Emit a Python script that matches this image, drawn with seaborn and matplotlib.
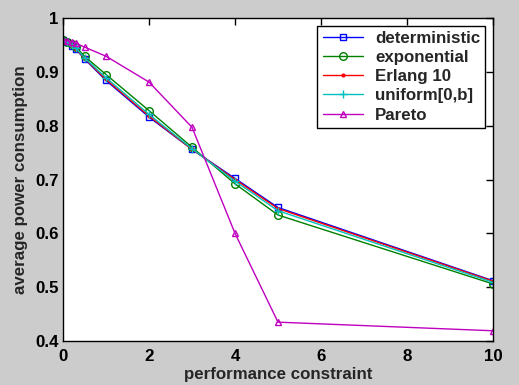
import matplotlib
matplotlib.use("Agg")
import matplotlib.pyplot as plt
import seaborn as sns
import pandas as pd

constraint = [0, 0.1, 0.2, 0.3, 0.5, 1, 2, 3, 4, 5, 10]
deterministic = [0.960, 0.955, 0.948, 0.942, 0.924, 0.884, 0.816, 0.756, 0.702, 0.648, 0.512]
exponential = [0.960, 0.956, 0.951, 0.946, 0.929, 0.895, 0.828, 0.760, 0.692, 0.634, 0.506]
erlang10 = [0.960, 0.955, 0.949, 0.943, 0.925, 0.886, 0.818, 0.756, 0.700, 0.646, 0.511]
uniform = [0.960, 0.955, 0.950, 0.944, 0.926, 0.889, 0.821, 0.757, 0.697, 0.642, 0.509]
pareto = [0.960, 0.958, 0.956, 0.953, 0.946, 0.929, 0.881, 0.797, 0.600, 0.435, 0.419]

series_names = ["deterministic", "exponential", "Erlang 10", "uniform[0,b]", "Pareto"]
series_values = [deterministic, exponential, erlang10, uniform, pareto]
x_ticks = [0, 2, 4, 6, 8, 10]
y_ticks = [0.4, 0.5, 0.6, 0.7, 0.8, 0.9, 1.0]
y_ticklabels = ["0.4", "0.5", "0.6", "0.7", "0.8", "0.9", "1"]

rows = []
for name, vals in zip(series_names, series_values):
    for xv, yv in zip(constraint, vals):
        rows.append({"constraint": xv, "power": yv, "series": name})
df = pd.DataFrame(rows)

sns.set_style("white")
plt.rcParams['font.family'] = ['Liberation Sans', 'DejaVu Sans']
plt.rcParams['font.weight'] = 'bold'
FS = 12.2

colors = ["#0000ff", "#008000", "#ff0000", "#00bfbf", "#bf00bf"]
markers = ["s", "o", ".", "+", "^"]
msizes = [5, 5.5, 4, 6, 5]

fig = plt.figure(figsize=(5.19, 3.85), dpi=100, facecolor="#cccccc")
ax = fig.add_axes([63/519, 1-341/385, (493-63)/519, (341-18)/385])
ax.set_facecolor("white")

for name, c, m, ms in zip(series_names, colors, markers, msizes):
    sub = df[df["series"] == name]
    sns.lineplot(data=sub, x="constraint", y="power", ax=ax, color=c, marker=m,
                 markersize=ms, markerfacecolor="none" if m not in [".", "+"] else c,
                 markeredgecolor=c, markeredgewidth=1, linewidth=1, label=name,
                 sort=False, errorbar=None)

ax.set_xlim(0, 10)
ax.set_ylim(0.4, 1.0)
ax.set_xticks(x_ticks)
ax.set_xticklabels([str(t) for t in x_ticks])
ax.set_yticks(y_ticks)
ax.set_yticklabels(y_ticklabels)
ax.tick_params(direction="in", length=5, width=1, top=True, right=True,
               labelsize=FS, colors="black", pad=3)
ax.tick_params(axis="x", pad=6)
for s in ax.spines.values():
    s.set_visible(True)
    s.set_color("black")
    s.set_linewidth(1)
ax.set_xlabel("performance constraint", fontsize=FS, fontweight="bold", labelpad=2)
ax.set_ylabel("average power consumption", fontsize=FS, fontweight="bold", labelpad=5)

leg = ax.legend(loc="upper right", prop={"size": FS, "weight": "bold"}, frameon=True,
                fancybox=False, edgecolor="black", framealpha=1, borderaxespad=0.45,
                handlelength=2.4, handletextpad=0.7, labelspacing=0.25,
                borderpad=0.3)
leg.get_frame().set_linewidth(1)

fig.savefig("out.png", dpi=100, facecolor=fig.get_facecolor())
